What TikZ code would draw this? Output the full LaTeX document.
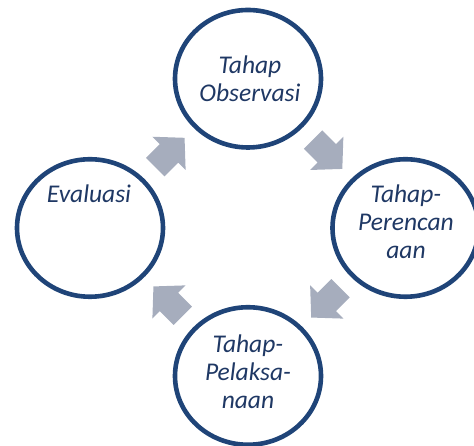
\documentclass[tikz,border=0pt]{standalone}
\usepackage{fontspec}
\setmainfont{Carlito}
\usetikzlibrary{shapes.geometric,calc}
\definecolor{ringblue}{RGB}{31,68,120}
\definecolor{textblue}{RGB}{31,56,100}
\definecolor{arrowgray}{RGB}{166,173,189}
\begin{document}
\begin{tikzpicture}[x=1pt,y=1pt,
  ring/.style={draw=ringblue,line width=4.6pt,ellipse,minimum width=146pt,minimum height=137.5pt,inner sep=0pt},
  ringtext/.style={text=textblue,font=\fontsize{25.5}{28}\selectfont\itshape,align=center,inner sep=0pt,anchor=base},
  blockarrow/.pic={\fill[arrowgray] (-19.5,-13) -- (0,-13) -- (0,-23.5) -- (22,0) -- (0,23.5) -- (0,13) -- (-19.5,13) -- cycle;}
]
\useasboundingbox (0,0) rectangle (474,446);
\clip (0,0) rectangle (474,446);
\node[ring] (top) at (248,367.25) {};
\node[ring] (left) at (90,218) {};
\node[ring] (right) at (405.5,218) {};
\node[ring] (bottom) at (248,70) {};
\node[ringtext] (ttop) at (250,344.5) {Tahap\\Observasi};
\node[ringtext] (tleft) at (89,243.7) {Evaluasi};
\node[ringtext] (tright) at (406,187) {Tahap-\\Perencan\\aan};
\node[ringtext] (tbottom) at (248,37) {Tahap-\\Pelaksa-\\naan};
\pic[rotate=45] at ($(left)!0.5!(top)$) {blockarrow};
\pic[rotate=-45] at ($(top)!0.5!(right)$) {blockarrow};
\pic[rotate=-135] at ($(right)!0.5!(bottom)$) {blockarrow};
\pic[rotate=135] at ($(bottom)!0.5!(left)$) {blockarrow};
\end{tikzpicture}
\end{document}
